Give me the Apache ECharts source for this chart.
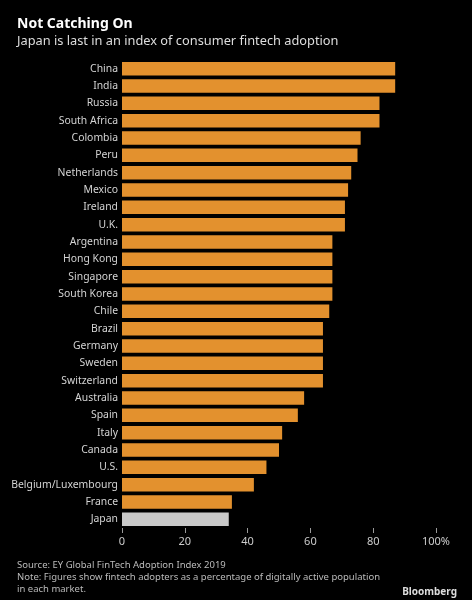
<!DOCTYPE html>
<html>
<head>
<meta charset="utf-8">
<script src="https://cdn.jsdelivr.net/npm/echarts@6/dist/echarts.min.js"></script>
<style>
  html, body {margin: 0; padding: 0; background: #000;}
  #chart {width: 472px; height: 600px;}
</style>
</head>
<body>
<div id="chart"></div>
<script>
var countries = ['China', 'India', 'Russia', 'South Africa', 'Colombia', 'Peru', 'Netherlands',
  'Mexico', 'Ireland', 'U.K.', 'Argentina', 'Hong Kong', 'Singapore', 'South Korea', 'Chile',
  'Brazil', 'Germany', 'Sweden', 'Switzerland', 'Australia', 'Spain', 'Italy', 'Canada', 'U.S.',
  'Belgium/Luxembourg', 'France', 'Japan'];
var adoption = [87, 87, 82, 82, 76, 75, 73, 72, 71, 71, 67, 67, 67, 67, 66, 64, 64, 64, 64,
  58, 56, 51, 50, 46, 42, 35, 34];
var tickLabels = ['0', '20', '40', '60', '80', '100%'];

var font = 'Noto Sans';
var chart = echarts.init(document.getElementById('chart'));

var barData = adoption.map(function (v, i) {
  return {
    value: v,
    itemStyle: {color: countries[i] === 'Japan' ? '#c9c9c9' : '#e3912e'}
  };
});

chart.setOption({
  backgroundColor: '#000',
  animation: false,
  title: [
    {
      text: 'Not Catching On',
      left: 12, top: 12,
      textStyle: {color: '#fff', fontFamily: font, fontWeight: 'bold', fontSize: 14}
    },
    {
      text: 'Japan is last in an index of consumer fintech adoption',
      left: 12, top: 30,
      textStyle: {color: '#ddd', fontFamily: font, fontWeight: 'normal', fontSize: 12.8}
    },
    {
      text: 'Source: EY Global FinTech Adoption Index 2019\n' +
        'Note: Figures show fintech adopters as a percentage of digitally active population\n' +
        'in each market.',
      left: 12, top: 554,
      textStyle: {color: '#bbb', fontFamily: font, fontWeight: 'normal', fontSize: 9.5, lineHeight: 12}
    },
    {
      text: 'Bloomberg',
      right: 10, top: 582,
      textStyle: {color: '#ddd', fontFamily: font, fontWeight: 'bold', fontSize: 10}
    }
  ],
  grid: {left: 122, right: 36, top: 60, bottom: 72},
  xAxis: {
    type: 'value',
    min: 0, max: 100, interval: 20,
    splitLine: {show: false},
    axisLine: {show: false},
    axisTick: {show: true, length: 5, lineStyle: {color: '#999'}},
    axisLabel: {
      color: '#ccc', fontFamily: font, fontSize: 11, margin: 8,
      formatter: function (v) { return tickLabels[v / 20]; }
    }
  },
  yAxis: {
    type: 'category',
    inverse: true,
    data: countries,
    axisLine: {show: false},
    axisTick: {show: false},
    axisLabel: {color: '#d4d4d4', fontFamily: font, fontSize: 10.4, margin: 4}
  },
  series: [{
    type: 'bar',
    data: barData,
    barCategoryGap: '22%',
    silent: true
  }]
});
</script>
</body>
</html>
